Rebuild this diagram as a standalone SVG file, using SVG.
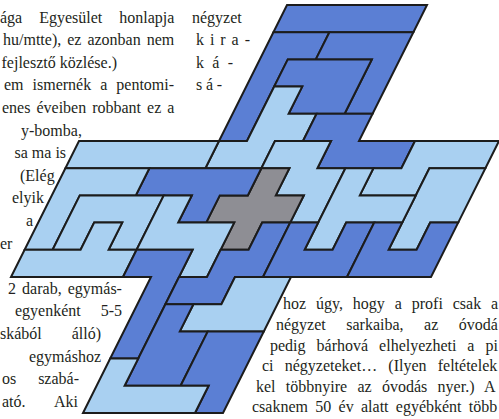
<svg xmlns="http://www.w3.org/2000/svg" width="499" height="419" viewBox="0 0 499 419">
<style>
.t{font-family:"Liberation Serif","Times New Roman",serif;font-size:16px;fill:#231f20}
.d{fill:#5b7fd4}
.l{fill:#a9d0f1}
.g{fill:#8e8e94}
.p{stroke:#1c1c1c;stroke-width:2;stroke-linejoin:miter;vector-effect:non-scaling-stroke}
</style>
<rect width="499" height="419" fill="#ffffff"/>
<g id="puzzle" transform="matrix(28 0 -13.6 27.2 147 5)">
<polygon id="n-i1" class="d p" points="5,0 10,0 10,1 5,1"/>
<polygon id="n-l1" class="d p" points="5,1 7,1 7,2 6,2 6,5 5,5"/>
<polygon id="n-v1" class="d p" points="7,1 10,1 10,4 9,4 9,2 7,2"/>
<polygon id="n-p1" class="d p" points="6,2 9,2 9,4 7,4 7,3 6,3"/>
<polygon id="n-e" class="l p" points="6,3 7,3 7,4 8,4 8,5 7,5 7,6 5,6 5,5 6,5"/>
<polygon id="n-d" class="d p" points="8,4 10,4 10,5 12,5 12,6 9,6 9,5 8,5"/>
<polygon id="n-i2" class="l p" points="0,5 5,5 5,6 0,6"/>
<polygon id="n-q" class="l p" points="7,5 9,5 9,6 10,6 10,8 9,8 9,7 8,7 8,6 7,6"/>
<polygon id="n-x" class="g p" points="7,6 8,6 8,7 9,7 9,8 8,8 8,9 7,9 7,8 6,8 6,7 7,7"/>
<polygon id="n-h" class="d p" points="3,6 7,6 7,7 6,7 6,8 5,8 5,7 3,7"/>
<polygon id="n-j" class="l p" points="12,5 15,5 15,6 13,6 13,7 11,7 11,6 12,6"/>
<polygon id="n-k" class="l p" points="13,6 15,6 15,8 14,8 14,9 13,9"/>
<polygon id="n-m" class="l p" points="10,6 11,6 11,7 13,7 13,8 11,8 11,9 10,9"/>
<polygon id="n-f" class="l p" points="0,6 3,6 3,7 1,7 1,9 0,9"/>
<polygon id="n-g" class="l p" points="1,7 4,7 4,9 3,9 3,8 2,8 2,9 1,9"/>
<polygon id="n-z" class="l p" points="4,7 5,7 5,8 7,8 7,10 6,10 6,9 4,9"/>
<polygon id="n-r" class="l p" points="0,9 2,9 2,8 3,8 3,9 4,9 4,10 0,10"/>
<polygon id="n-s" class="d p" points="4,9 6,9 6,13 5,13 5,10 4,10"/>
<polygon id="n-t" class="d p" points="8,8 9,8 9,10 8,10 8,11 6,11 6,10 7,10 7,9 8,9"/>
<polygon id="n-u" class="d p" points="9,8 10,8 10,9 11,9 11,8 12,8 12,10 9,10"/>
<polygon id="n-w" class="d p" points="12,8 13,8 13,9 14,9 14,8 15,8 15,10 12,10"/>
<polygon id="n-b1" class="l p" points="8,10 10,10 10,12 7,12 7,11 8,11"/>
<polygon id="n-b2" class="d p" points="6,11 7,11 7,12 8,12 8,14 6,14"/>
<polygon id="n-b3" class="d p" points="8,12 10,12 10,15 9,15 9,14 8,14"/>
<polygon id="n-b4" class="l p" points="5,13 6,13 6,14 9,14 9,15 5,15"/>
</g>
<g id="text-left">
<text class="t" x="0" y="22.6" word-spacing="13">ága Egyesület honlapja</text>
<text class="t" x="3" y="45.2" word-spacing="2">hu/mtte), ez azonban nem</text>
<text class="t" x="1.5" y="67.8">fejlesztő közlése.)</text>
<text class="t" x="4" y="90.4" word-spacing="5">em ismernék a pentomi-</text>
<text class="t" x="2" y="113" word-spacing="2">enes éveiben robbant ez a</text>
<text class="t" x="21" y="135.6">y-bomba,</text>
<text class="t" x="14.5" y="158.2">sa ma is</text>
<text class="t" x="20" y="180.8">(Elég</text>
<text class="t" x="12" y="203.4">elyik</text>
<text class="t" x="26" y="226">a</text>
<text class="t" x="0" y="248.6">er</text>
</g>
<g id="text-top-right">
<text class="t" x="192" y="22.6">négyzet</text>
<text class="t" x="196" y="45.2" textLength="54" lengthAdjust="spacing">k i r a -</text>
<text class="t" x="196" y="67.8" textLength="37" lengthAdjust="spacing">k á -</text>
<text class="t" x="196" y="90.4" textLength="26" lengthAdjust="spacing">sá-</text>
</g>
<g id="text-bottom-left">
<text class="t" x="8" y="293.8" word-spacing="2.1">2 darab, egymás-</text>
<text class="t" x="15" y="316.4" word-spacing="15.9">egyenként 5-5</text>
<text class="t" x="0" y="339" word-spacing="25.9">skából álló)</text>
<text class="t" x="101" y="361.6" text-anchor="end">egymáshoz</text>
<text class="t" x="2" y="384.2" word-spacing="17.9">os szabá-</text>
<text class="t" x="2" y="406.8" word-spacing="25.4">ató. Aki</text>
</g>
<g id="text-bottom-right">
<text class="t" x="283" y="309" word-spacing="5.9">hoz úgy, hogy a profi csak a</text>
<text class="t" x="276" y="330" word-spacing="16.5">négyzet sarkaiba, az óvodá</text>
<text class="t" x="270" y="350.5" word-spacing="7">pedig bárhová elhelyezheti a pi</text>
<text class="t" x="262" y="371" word-spacing="7.2">ci négyzeteket… (Ilyen feltételek</text>
<text class="t" x="256" y="391.5" word-spacing="6.3">kel többnyire az óvodás nyer.) A</text>
<text class="t" x="252" y="412" word-spacing="3.3">csaknem 50 év alatt egyébként több</text>
</g>
</svg>
